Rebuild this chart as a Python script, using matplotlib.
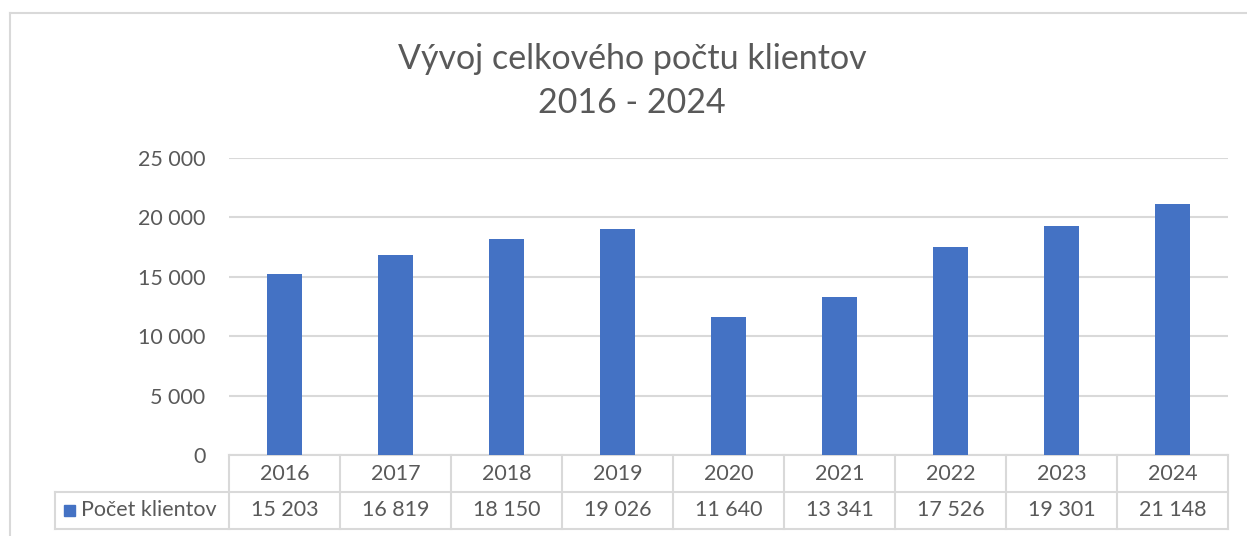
import matplotlib
matplotlib.use("Agg")
import matplotlib.pyplot as plt
from matplotlib.transforms import blended_transform_factory
from matplotlib.patches import Rectangle
from matplotlib.lines import Line2D

plt.rcParams['font.family'] = ['Lato', 'DejaVu Sans']

# data
years = ['2016', '2017', '2018', '2019', '2020', '2021', '2022', '2023', '2024']
clients = [15203, 16819, 18150, 19026, 11640, 13341, 17526, 19301, 21148]
series_name = 'Počet klientov'
title = 'Vývoj celkového počtu klientov\n2016 - 2024'
yticks = [0, 5000, 10000, 15000, 20000, 25000]

blue = '#4472C4'
txt = '#595959'
grid = '#D9D9D9'

W, H = 1247, 536
fs = 15.5


def fx(px):
    return px / W


def fy(py):
    return 1 - py / H


def fmt(v):
    return f'{v:,}'.replace(',', ' ')


fig = plt.figure(figsize=(W / 100, H / 100), dpi=100)

# outer chart border (runs off the right and bottom)
fig.add_artist(Line2D([fx(10), fx(10)], [fy(13), 0], color=grid, lw=1.5))
fig.add_artist(Line2D([fx(10), 1], [fy(13), fy(13)], color=grid, lw=1.5))

ax = fig.add_axes([fx(229), fy(455), fx(1228) - fx(229), fy(158) - fy(455)])
x = list(range(len(years)))
ax.bar(x, clients, width=0.315, color=blue, zorder=3)
ax.set_xlim(-0.5, len(years) - 0.5)
ax.set_ylim(0, 25000)
ax.set_yticks(yticks)
ax.set_yticklabels([fmt(v) for v in yticks])
ax.set_xticks([])
ax.yaxis.grid(True, color=grid, lw=1.5)
ax.set_axisbelow(True)
for s in ['top', 'right', 'left']:
    ax.spines[s].set_visible(False)
ax.spines['bottom'].set_color(grid)
ax.spines['bottom'].set_linewidth(1.5)
ax.tick_params(axis='y', length=0, pad=17, labelsize=fs, labelcolor=txt)

fig.text(fx(632), fy(81), title, ha='center', va='center', fontsize=24.5,
         color=txt, linespacing=1.48)

# data table under the axis
tr = blended_transform_factory(ax.transData, fig.transFigure)
rows = [455, 492, 529]
edges = [i - 0.5 for i in range(len(years) + 1)]
for py in rows[1:]:
    fig.add_artist(Line2D([fx(55), fx(1228)], [fy(py), fy(py)], color=grid, lw=1.5))
for e in edges:
    fig.add_artist(Line2D([e, e], [fy(rows[0]), fy(rows[2])], color=grid, lw=1.5,
                          transform=tr))
fig.add_artist(Line2D([fx(55), fx(55)], [fy(rows[1]), fy(rows[2])], color=grid, lw=1.5))

for i, (yr, v) in enumerate(zip(years, clients)):
    fig.text(i, fy((rows[0] + rows[1]) / 2), yr, transform=tr, ha='center',
             va='center', fontsize=fs, color=txt)
    fig.text(i, fy((rows[1] + rows[2]) / 2), fmt(v), transform=tr, ha='center',
             va='center', fontsize=fs, color=txt)

fig.add_artist(Rectangle((fx(64), fy(516)), fx(11), 11 / H, color=blue,
                         transform=fig.transFigure))
fig.text(fx(81), fy((rows[1] + rows[2]) / 2), series_name, ha='left', va='center',
         fontsize=fs, color=txt)

fig.savefig('out.png', dpi=100)
